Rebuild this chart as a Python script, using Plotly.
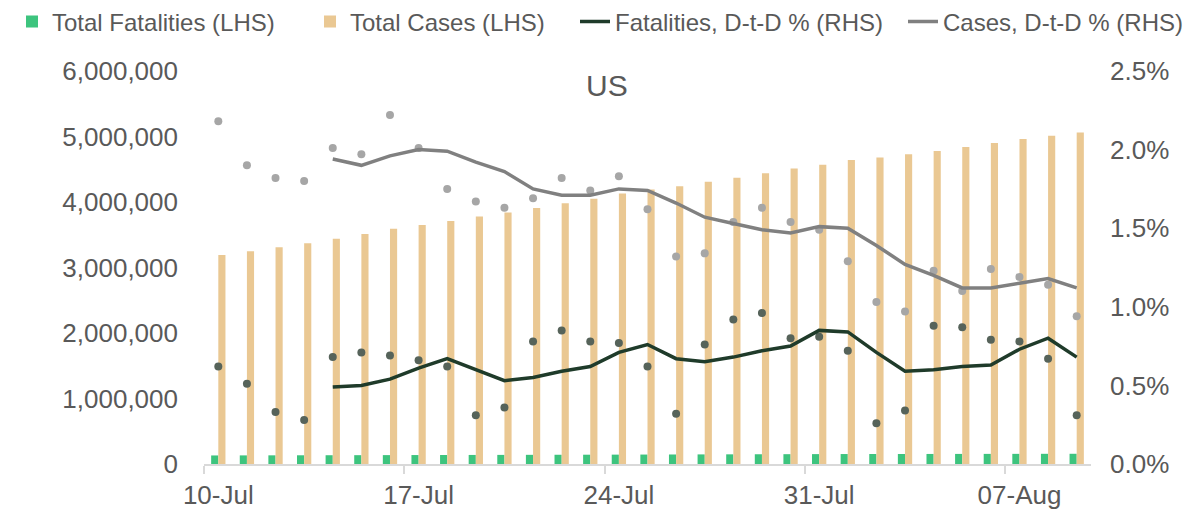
import pandas as pd
import plotly.graph_objects as go

dates = [d.strftime("%Y-%m-%d") for d in pd.date_range("2020-07-10", "2020-08-09", freq="D")]
tick_dates = dates[::7]

total_fatalities = [130500, 131400, 132300, 133200, 134000, 134800, 135700, 136600, 137500, 138300,
                    139100, 140000, 141000, 142000, 143000, 144200, 145400, 146500, 147700, 148900,
                    150000, 151000, 152000, 152500, 153000, 153500, 154000, 154500, 155000, 155500, 156000]
total_cases = [3190000, 3250000, 3310000, 3370000, 3440000, 3510000, 3590000, 3650000, 3710000, 3780000,
               3840000, 3910000, 3980000, 4050000, 4130000, 4190000, 4240000, 4310000, 4370000, 4440000,
               4510000, 4570000, 4640000, 4680000, 4730000, 4780000, 4840000, 4900000, 4960000, 5010000, 5060000]
cases_dtd = [2.18, 1.90, 1.82, 1.80, 2.01, 1.97, 2.22, 2.01, 1.75, 1.67, 1.63, 1.69, 1.82, 1.74, 1.83, 1.62,
             1.32, 1.34, 1.54, 1.63, 1.54, 1.49, 1.29, 1.03, 0.97, 1.23, 1.10, 1.24, 1.19, 1.14, 0.94]
cases_avg = [None, None, None, None, 1.94, 1.90, 1.96, 2.00, 1.99, 1.92, 1.86, 1.75, 1.71, 1.71, 1.75, 1.74,
             1.66, 1.57, 1.53, 1.49, 1.47, 1.51, 1.50, 1.39, 1.27, 1.20, 1.12, 1.12, 1.15, 1.18, 1.12]
fatal_dtd = [0.62, 0.51, 0.33, 0.28, 0.68, 0.71, 0.69, 0.66, 0.62, 0.31, 0.36, 0.78, 0.85, 0.78, 0.77, 0.62,
             0.32, 0.76, 0.92, 0.96, 0.80, 0.81, 0.72, 0.26, 0.34, 0.88, 0.87, 0.79, 0.78, 0.67, 0.31]
fatal_avg = [None, None, None, None, 0.49, 0.50, 0.54, 0.61, 0.67, 0.60, 0.53, 0.55, 0.59, 0.62, 0.71, 0.76,
             0.67, 0.65, 0.68, 0.72, 0.75, 0.85, 0.84, 0.71, 0.59, 0.60, 0.62, 0.63, 0.73, 0.80, 0.68]
left_ticks = [0, 1000000, 2000000, 3000000, 4000000, 5000000, 6000000]
right_ticks = [0.0, 0.5, 1.0, 1.5, 2.0, 2.5]
right_labels = [f"{v:.1f}%" for v in right_ticks]

FONT = "Liberation Sans, Arial, sans-serif"
TXT = "#595959"
W, H = 1184, 503  # page body adds an 8px offset inside the 1192x511 window

half_day = pd.Timedelta(hours=12)
minor_ticks = [(pd.Timestamp(d) - half_day).strftime("%Y-%m-%d %H:%M") for d in tick_dates]
x_range = [(pd.Timestamp(dates[0]) - half_day).strftime("%Y-%m-%d %H:%M"),
           (pd.Timestamp(dates[-1]) + half_day).strftime("%Y-%m-%d %H:%M")]

fig = go.Figure()
fig.add_trace(go.Bar(x=dates, y=total_fatalities, name="Total Fatalities (LHS)", legend="legend",
                     marker=dict(color="#3DC47E", line=dict(width=0))))
fig.add_trace(go.Bar(x=dates, y=total_cases, name="Total Cases (LHS)", legend="legend",
                     marker=dict(color="#EAC893", line=dict(width=0))))
fig.add_trace(go.Scatter(x=dates, y=cases_dtd, mode="markers", yaxis="y2", showlegend=False,
                         marker=dict(color="#A6A6A6", size=8)))
fig.add_trace(go.Scatter(x=dates, y=fatal_dtd, mode="markers", yaxis="y2", showlegend=False,
                         marker=dict(color="#56635A", size=8)))
fig.add_trace(go.Scatter(x=dates, y=fatal_avg, mode="lines", yaxis="y2", name="Fatalities, D-t-D % (RHS)",
                         legend="legend2", line=dict(color="#1F3B2A", width=3.5)))
fig.add_trace(go.Scatter(x=dates, y=cases_avg, mode="lines", yaxis="y2", name="Cases, D-t-D % (RHS)",
                         legend="legend2", line=dict(color="#808080", width=3.5)))

legend_common = dict(orientation="h", xref="container", yref="container", xanchor="left",
                     y=1 - 14 / H, yanchor="middle", font=dict(size=24, color=TXT, family=FONT),
                     itemwidth=30, bgcolor="rgba(0,0,0,0)", traceorder="normal",
                     entrywidthmode="pixels")

fig.update_layout(
    width=W, height=H,
    margin=dict(l=196, r=101, t=63, b=47, autoexpand=False),
    paper_bgcolor="white", plot_bgcolor="white",
    font=dict(family=FONT, color=TXT, size=26),
    barmode="group", bargap=0.5, bargroupgap=0,
    showlegend=True,
    legend=dict(legend_common, x=4 / W, entrywidth=253),
    legend2=dict(legend_common, x=567 / W, entrywidth=283),
    xaxis=dict(type="date", range=x_range, tickvals=tick_dates, tickformat="%d-%b",
               ticks="", showline=True, linecolor="#D9D9D9", linewidth=1.5, showgrid=False,
               zeroline=False, tickfont=dict(size=26, color=TXT), automargin=False,
               ticklabelstandoff=7,
               minor=dict(tickvals=minor_ticks, ticks="outside", ticklen=8, tickcolor="#D9D9D9",
                          tickwidth=1.5, showgrid=False)),
    yaxis=dict(range=[0, 6000000], tickvals=left_ticks, tickformat=",d", showgrid=False,
               zeroline=False, showline=False, ticks="", ticklabelstandoff=25, automargin=False,
               tickfont=dict(size=26, color=TXT)),
    yaxis2=dict(range=[0, 2.5], tickvals=right_ticks, ticktext=right_labels,
                overlaying="y", side="right", showgrid=False, zeroline=False, showline=False,
                ticks="", ticklabelstandoff=18, automargin=False, tickfont=dict(size=26, color=TXT)),
    annotations=[dict(text="US", xref="paper", yref="paper", x=0.4543, y=0.962,
                      xanchor="center", yanchor="middle", showarrow=False,
                      font=dict(size=30, color=TXT, family=FONT))],
)

fig.write_html("out.html")
